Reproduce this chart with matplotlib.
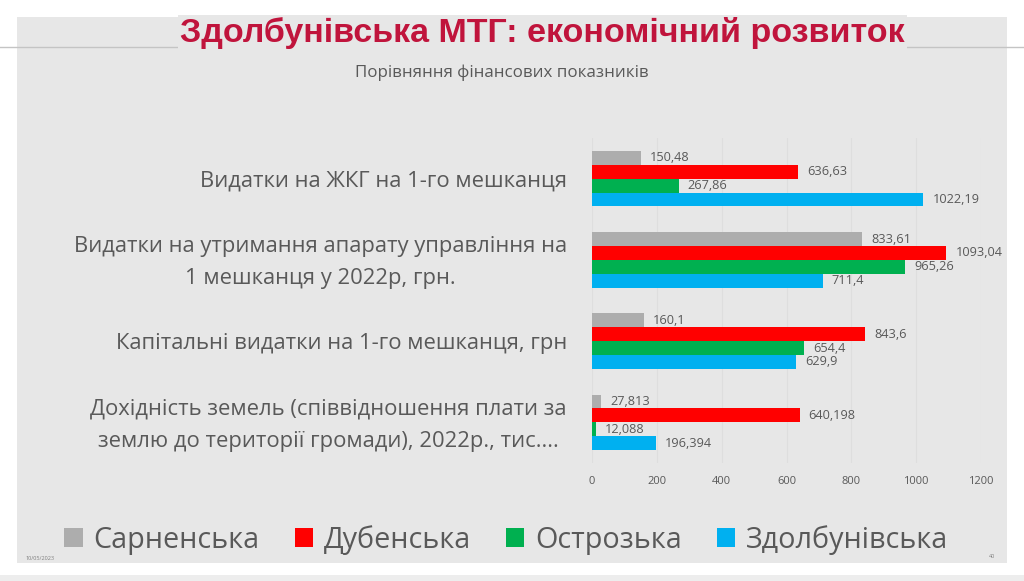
import matplotlib
matplotlib.use('Agg')
import numpy as np
import matplotlib.pyplot as plt
import matplotlib.transforms as mtransforms
from matplotlib.patches import Rectangle, Patch
from matplotlib.lines import Line2D

plt.rcParams['font.family'] = ['Open Sans', 'DejaVu Sans']

title = "Здолбунівська МТГ: економічний розвиток"
subtitle = "Порівняння фінансових показників"
categories = ["Видатки на ЖКГ на 1-го мешканця",
              "Видатки на утримання апарату управління на\n1 мешканця у 2022р, грн.",
              "Капітальні видатки на 1-го мешканця, грн",
              "Дохідність земель (співвідношення плати за\nземлю до території громади), 2022р., тис...."]
series_names = ["Сарненська", "Дубенська", "Острозька", "Здолбунівська"]
sarnenska = [150.48, 833.61, 160.1, 27.813]
dubenska = [636.63, 1093.04, 843.6, 640.198]
ostrozka = [267.86, 965.26, 654.4, 12.088]
zdolbunivska = [1022.19, 711.4, 629.9, 196.394]
x_ticks = [0, 200, 400, 600, 800, 1000, 1200]
date_text = "10/05/2023"
page_text = "40"

colors = ['#ADADAD', '#FF0000', '#00B050', '#00B0F0']
label_color = '#595959'
panel_color = '#E7E7E7'

W, H = 1024, 581
fig = plt.figure(figsize=(W / 100, H / 100), dpi=100)
fig.patch.set_facecolor('white')


def fx(x):
    return x / W


def fy(y):
    return 1 - y / H


fig.patches.append(Rectangle((fx(17), fy(563)), (1007 - 17) / W, (563 - 17) / H,
                             transform=fig.transFigure, facecolor=panel_color,
                             edgecolor='none', zorder=-2))
fig.patches.append(Rectangle((0, 0), 1, (581 - 575) / H, transform=fig.transFigure,
                             facecolor='#EDEDED', edgecolor='none', zorder=-2))
fig.lines.append(Line2D([0, 1], [fy(47), fy(47)], transform=fig.transFigure,
                        color='#C4C4C4', lw=1.0, zorder=-1))

ax = fig.add_axes([fx(592), fy(463), (981 - 592) / W, (463 - 138) / H])
ax.set_facecolor('none')
ax.set_zorder(2)

series = [sarnenska, dubenska, ostrozka, zdolbunivska]
ypos = np.arange(len(categories))
h = 0.171
for i, vals in enumerate(series):
    bars = ax.barh(ypos + (i - 1.5) * h, vals, height=h, color=colors[i],
                   label=series_names[i], zorder=2)
    ax.bar_label(bars, labels=[str(v).replace('.', ',') for v in vals],
                 padding=6.5, fontsize=9.2, color=label_color)

ax.set_xlim(0, 1200)
ax.set_ylim(len(categories) - 0.5, -0.5)
ax.set_xticks(x_ticks)
ax.set_yticks(ypos, categories)
for s in ax.spines.values():
    s.set_visible(False)
ax.tick_params(axis='x', length=0, labelsize=8, pad=9, labelcolor=label_color)
ax.tick_params(axis='y', length=0, labelsize=14, pad=18, labelcolor=label_color)
ax.grid(axis='x', color='#DEDEDE', lw=0.75, zorder=0)
ax.set_axisbelow(True)

t_title = fig.text(fx(542.5), fy(42), title, ha='center', va='baseline',
                   fontsize=22, fontweight='bold', color='#C0143C',
                   family=['Liberation Sans Narrow', 'Liberation Sans'],
                   bbox=dict(facecolor=panel_color, edgecolor='none', pad=1.5), zorder=3)
t_sub = fig.text(fx(502), fy(73), subtitle, ha='center', va='center',
                 fontsize=11.5, color=label_color)
fig.text(fx(25), fy(558.5), date_text, ha='left', va='center', fontsize=4, color='#7F7F7F')
fig.text(fx(992), fy(556), page_text, ha='center', va='center', fontsize=4, color='#7F7F7F')

handles = [Patch(facecolor=c, edgecolor='none') for c in colors]
leg_kw = dict(loc='center', bbox_to_anchor=(fx(506.5), fy(540)), ncol=4, frameon=False,
              handlelength=0.63, handleheight=0.63, handletextpad=0.38,
              columnspacing=1.22, borderpad=0, borderaxespad=0, labelcolor=label_color)
leg = fig.legend(handles, series_names, fontsize=20, **leg_kw)

# fit text sizes to reference widths
fig.canvas.draw()
r = fig.canvas.get_renderer()


def fit(t, target):
    w = t.get_window_extent(r).width
    t.set_fontsize(t.get_fontsize() * target / w)


fit(t_title, 725)
fit(t_sub, 293)
w0 = ax.get_yticklabels()[0].get_window_extent(r).width
ax.tick_params(axis='y', labelsize=14 * 369 / w0)
lw = leg.get_window_extent(r).width
leg.remove()
leg = fig.legend(handles, series_names, fontsize=20 * 883 / lw, **leg_kw)
shift = mtransforms.ScaledTranslation(0, -3 / 100, fig.dpi_scale_trans)
for lbl in ax.get_yticklabels():
    lbl.set_multialignment('center')
    lbl.set_linespacing(1.68)
    if '\n' in lbl.get_text():
        lbl.set_verticalalignment('center')
        lbl.set_transform(lbl.get_transform() + shift)

fig.savefig('out.png', dpi=100, facecolor='white')
